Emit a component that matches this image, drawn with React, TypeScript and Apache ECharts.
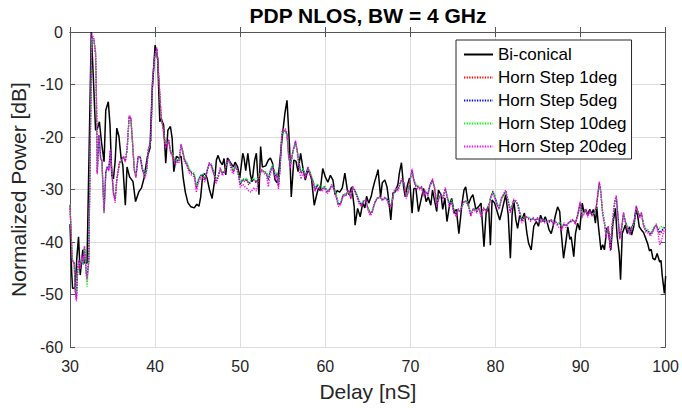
import React, { useEffect, useRef } from "react";
import * as echarts from "echarts";

const FONT = '"Liberation Sans", Arial, Helvetica, sans-serif';

const xTicks = [30, 40, 50, 60, 70, 80, 90, 100];
const yTicks = [-60, -50, -40, -30, -20, -10, 0];

const seriesNames = ["Bi-conical", "Horn Step 1deg", "Horn Step 5deg", "Horn Step 10deg", "Horn Step 20deg"];

// Bi-conical: [delay (nS), normalized power (dB)]
const biconical: number[][] = [
  [30.0, -36.6], [30.2, -46.0], [30.3, -48.8], [30.6, -48.8], [30.8, -43.0], [31.0, -39.0], [31.2, -46.3], [31.5, -41.5], [31.7, -44.0], [32.0, -44.0],
  [32.5, 0.0], [32.75, -9.1], [33.0, -18.7], [33.2, -18.5], [33.45, -17.1], [33.7, -21.0], [34.0, -24.7], [34.2, -14.9], [34.5, -13.3], [34.7, -17.7],
  [34.9, -27.2], [35.1, -28.0], [35.3, -24.7], [35.5, -18.3], [35.75, -19.9], [36.0, -24.0], [36.2, -25.3], [36.5, -33.0], [36.7, -25.7], [37.0, -27.6],
  [37.4, -28.5], [37.7, -32.3], [38.1, -30.4], [38.4, -29.7], [38.7, -27.8], [39.1, -23.7], [39.4, -22.1], [39.65, -11.4], [40.0, -2.5], [40.3, -5.0],
  [40.55, -17.1], [40.7, -16.5], [41.0, -17.7], [41.25, -25.0], [41.5, -18.7], [41.8, -18.0], [42.0, -20.2], [42.2, -26.6], [42.5, -23.7], [42.8, -24.0],
  [43.05, -23.7], [43.3, -27.8], [43.55, -30.5], [43.85, -32.5], [44.2, -33.3], [44.6, -33.5], [44.9, -32.8], [45.15, -33.2], [45.35, -31.5], [45.6, -27.2],
  [45.85, -27.0], [46.1, -27.8], [46.4, -30.1], [46.7, -31.7], [47.0, -28.2], [47.2, -24.4], [47.4, -23.5], [47.65, -24.7], [47.9, -25.3], [48.1, -24.1],
  [48.3, -27.2], [48.5, -24.0], [48.9, -25.0], [49.2, -25.7], [49.4, -24.8], [49.7, -25.7], [49.95, -27.8], [50.3, -23.1], [50.45, -24.0], [50.65, -26.4],
  [50.9, -23.1], [51.2, -27.2], [51.4, -28.5], [51.7, -24.4], [51.9, -23.1], [52.2, -31.0], [52.4, -21.8], [52.6, -25.7], [53.0, -25.5], [53.3, -24.4],
  [53.55, -24.0], [53.8, -25.0], [54.1, -28.2], [54.35, -28.7], [54.6, -25.7], [54.9, -20.6], [55.25, -15.5], [55.5, -13.0], [55.8, -21.8], [56.0, -31.4],
  [56.3, -24.4], [56.55, -24.6], [56.8, -26.6], [57.1, -23.1], [57.4, -26.2], [57.65, -28.2], [57.9, -26.6], [58.15, -26.6], [58.4, -28.2], [58.7, -33.0],
  [59.0, -30.9], [59.2, -29.7], [59.4, -30.2], [59.7, -26.0], [60.0, -27.6], [60.3, -28.6], [60.6, -27.3], [60.9, -28.2], [61.15, -31.0], [61.4, -30.2],
  [61.7, -30.5], [62.0, -29.7], [62.3, -26.9], [62.6, -30.2], [62.8, -31.0], [63.1, -29.5], [63.4, -33.3], [63.5, -36.8], [63.8, -33.6], [64.1, -35.2],
  [64.4, -32.6], [64.65, -33.5], [64.85, -31.3], [65.1, -32.6], [65.4, -31.3], [65.55, -30.1], [65.8, -28.5], [66.1, -26.9], [66.2, -26.2], [66.5, -31.4],
  [66.7, -28.7], [67.0, -28.2], [67.25, -29.5], [67.5, -32.6], [67.7, -35.8], [67.95, -30.7], [68.25, -30.4], [68.55, -28.9], [68.7, -26.9], [68.95, -24.9],
  [69.2, -29.5], [69.4, -31.4], [69.65, -29.2], [69.9, -27.8], [70.2, -34.5], [70.4, -29.8], [70.65, -29.8], [70.95, -34.2], [71.3, -31.6], [71.55, -29.8],
  [71.85, -32.3], [72.1, -31.4], [72.4, -33.0], [72.6, -30.1], [72.9, -32.6], [73.1, -34.2], [73.3, -30.1], [73.6, -31.0], [73.8, -33.8], [74.05, -31.6],
  [74.3, -36.1], [74.6, -33.0], [74.85, -31.7], [75.15, -34.5], [75.4, -33.8], [75.7, -38.4], [76.05, -32.9], [76.3, -30.1], [76.5, -29.5], [76.8, -32.9],
  [77.1, -31.6], [77.35, -31.0], [77.7, -33.8], [78.0, -33.3], [78.3, -32.6], [78.65, -40.9], [78.9, -34.5], [79.2, -33.2], [79.4, -40.6], [79.6, -32.0],
  [79.9, -32.6], [80.2, -34.2], [80.5, -35.8], [80.8, -33.8], [81.2, -31.0], [81.5, -34.9], [81.75, -43.1], [81.95, -34.9], [82.15, -32.0], [82.4, -35.8],
  [82.6, -37.4], [82.85, -34.9], [83.1, -35.8], [83.4, -34.5], [83.7, -38.4], [83.9, -40.3], [84.2, -41.5], [84.5, -37.0], [84.8, -36.1], [85.05, -37.0],
  [85.3, -34.9], [85.6, -36.1], [85.85, -35.2], [86.05, -36.1], [86.3, -37.7], [86.55, -38.4], [86.8, -36.8], [87.05, -34.9], [87.3, -33.3], [87.55, -34.2],
  [87.7, -37.7], [88.0, -43.1], [88.3, -39.7], [88.5, -37.1], [88.75, -39.5], [88.9, -39.0], [89.2, -42.8], [89.4, -38.4], [89.65, -36.4], [89.9, -37.7],
  [90.2, -32.6], [90.4, -34.4], [90.6, -33.8], [90.8, -34.7], [91.1, -33.8], [91.3, -34.7], [91.5, -33.8], [91.75, -36.4], [91.9, -33.3], [92.1, -37.0],
  [92.4, -41.5], [92.6, -40.5], [92.8, -41.5], [93.1, -37.3], [93.3, -38.2], [93.55, -41.5], [93.8, -36.4], [94.1, -33.6], [94.3, -39.0], [94.55, -42.2],
  [94.7, -47.2], [94.9, -38.4], [95.25, -36.8], [95.5, -38.4], [95.75, -37.1], [96.0, -38.7], [96.25, -37.1], [96.5, -33.9], [96.7, -34.9], [96.9, -37.1],
  [97.15, -37.7], [97.4, -38.2], [97.7, -39.5], [97.9, -40.4], [98.1, -41.7], [98.3, -41.4], [98.5, -43.1], [98.75, -43.4], [99.0, -42.2], [99.3, -43.8],
  [99.45, -43.5], [99.6, -46.4], [99.85, -49.8], [100.0, -46.5],
];

// Horn measurements share one delay grid (nS)
const hornDelay = [
  30.0, 30.25, 30.5, 30.6, 30.75, 30.9, 31.05, 31.2, 31.4, 31.55,
  31.7, 31.9, 32.0, 32.2, 32.4, 32.55, 32.8, 33.0, 33.1, 33.2,
  33.4, 33.6, 33.75, 33.9, 34.0, 34.2, 34.35, 34.55, 34.75, 34.9,
  35.1, 35.3, 35.5, 35.8, 36.05, 36.3, 36.5, 36.7, 36.95, 37.15,
  37.35, 37.55, 37.75, 38.0, 38.25, 38.5, 38.8, 39.0, 39.2, 39.5,
  39.7, 39.95, 40.2, 40.45, 40.7, 41.05, 41.2, 41.4, 41.6, 41.8,
  42.05, 42.35, 42.6, 42.8, 43.05, 43.25, 43.45, 43.7, 44.0, 44.3,
  44.6, 44.85, 45.1, 45.35, 45.6, 45.85, 46.1, 46.35, 46.6, 46.9,
  47.15, 47.4, 47.65, 47.9, 48.15, 48.4, 48.7, 48.95, 49.2, 49.5,
  49.8, 50.0, 50.3, 50.55, 50.8, 51.0, 51.3, 51.6, 51.9, 52.2,
  52.5, 52.8, 53.1, 53.3, 53.55, 53.8, 54.0, 54.15, 54.3, 54.5,
  54.7, 54.9, 55.1, 55.3, 55.5, 55.7, 55.9, 56.15, 56.5, 56.7,
  56.9, 57.15, 57.4, 57.65, 57.95, 58.2, 58.5, 58.8, 59.05, 59.3,
  59.6, 59.9, 60.2, 60.45, 60.75, 61.0, 61.3, 61.55, 61.8, 62.1,
  62.4, 62.7, 63.0, 63.2, 63.45, 63.7, 64.0, 64.25, 64.5, 64.75,
  65.0, 65.3, 65.5, 65.8, 66.1, 66.4, 66.7, 67.0, 67.25, 67.6,
  67.8, 68.0, 68.3, 68.55, 68.8, 69.0, 69.25, 69.5, 69.7, 69.9,
  70.2, 70.4, 70.6, 70.85, 71.1, 71.3, 71.55, 71.8, 72.05, 72.3,
  72.6, 72.85, 73.1, 73.35, 73.6, 73.85, 74.1, 74.35, 74.6, 74.85,
  75.1, 75.4, 75.6, 75.85, 76.05, 76.35, 76.6, 76.85, 77.1, 77.35,
  77.55, 77.8, 78.05, 78.3, 78.6, 78.9, 79.2, 79.5, 79.7, 79.95,
  80.2, 80.45, 80.7, 80.95, 81.2, 81.5, 81.75, 81.95, 82.15, 82.4,
  82.65, 82.9, 83.1, 83.35, 83.6, 83.9, 84.15, 84.45, 84.7, 84.95,
  85.3, 85.55, 85.8, 86.05, 86.3, 86.55, 86.8, 87.05, 87.3, 87.55,
  87.8, 88.05, 88.3, 88.6, 88.85, 89.1, 89.4, 89.65, 89.95, 90.2,
  90.4, 90.6, 90.85, 91.1, 91.35, 91.6, 91.85, 92.2, 92.35, 92.6,
  92.85, 93.0, 93.25, 93.5, 93.7, 94.0, 94.2, 94.4, 94.6, 94.85,
  95.05, 95.3, 95.55, 95.8, 96.05, 96.3, 96.55, 96.75, 96.95, 97.15,
  97.4, 97.7, 97.95, 98.2, 98.45, 98.65, 98.9, 99.1, 99.3, 99.55,
  99.8, 100.0,
];

const hornStep1 = [
  -33.0, -43.4, -44.0, -49.0, -51.0, -45.3, -43.5, -45.0, -42.8, -44.0,
  -40.9, -45.8, -47.0, -43.7, -18.7, -0.9, -1.5, -4.0, -12.0, -26.9,
  -19.7, -24.1, -24.5, -30.7, -34.2, -26.9, -25.7, -26.3, -22.5, -26.3,
  -30.7, -31.9, -28.1, -25.0, -24.4, -23.8, -24.6, -22.5, -16.1, -16.4,
  -21.2, -26.3, -27.6, -23.8, -23.8, -26.2, -27.6, -26.3, -22.5, -20.6,
  -9.1, -4.7, -3.1, -9.1, -16.0, -19.5, -21.8, -21.5, -20.6, -22.8,
  -23.5, -25.0, -24.5, -24.7, -21.5, -22.8, -24.4, -25.0, -26.3, -26.9,
  -27.2, -29.8, -28.2, -27.5, -27.3, -28.2, -26.6, -25.0, -25.4, -26.9,
  -28.5, -27.6, -26.0, -27.0, -26.6, -25.0, -24.4, -25.7, -26.6, -25.4,
  -27.2, -29.1, -28.2, -28.5, -28.2, -29.1, -28.5, -28.2, -28.8, -27.5,
  -26.3, -26.6, -27.0, -28.2, -26.5, -25.6, -26.6, -27.6, -27.0, -29.5,
  -25.5, -19.3, -18.7, -18.7, -19.5, -23.7, -25.6, -23.1, -20.9, -22.5,
  -25.0, -26.9, -26.3, -27.6, -25.8, -26.9, -28.2, -30.1, -29.2, -29.5,
  -30.1, -29.5, -30.5, -30.2, -29.2, -29.8, -31.4, -33.0, -32.7, -31.1,
  -31.1, -30.2, -31.7, -29.5, -30.2, -31.1, -32.6, -33.0, -32.3, -32.0,
  -33.6, -34.7, -34.3, -32.6, -31.7, -31.4, -32.0, -31.6, -31.9, -33.2,
  -33.0, -30.8, -29.8, -30.1, -28.8, -28.2, -28.8, -31.4, -30.7, -28.8,
  -26.3, -28.2, -29.2, -29.5, -29.8, -29.5, -31.0, -30.4, -31.0, -29.2,
  -28.2, -29.8, -32.9, -31.6, -31.0, -31.6, -29.8, -31.6, -33.0, -32.3,
  -34.2, -34.9, -33.8, -34.2, -33.0, -32.3, -32.3, -33.2, -34.9, -33.8,
  -33.8, -34.2, -33.6, -34.9, -33.6, -34.0, -33.2, -31.0, -30.3, -31.5,
  -33.0, -33.6, -31.7, -31.0, -30.3, -32.3, -34.2, -33.2, -32.0, -32.3,
  -33.0, -34.9, -36.1, -35.5, -35.2, -35.5, -35.8, -35.5, -35.9, -35.5,
  -36.1, -35.8, -36.1, -36.1, -36.1, -35.8, -36.5, -36.1, -36.7, -36.5,
  -37.5, -36.5, -37.0, -36.3, -36.1, -35.8, -36.4, -34.9, -32.6, -35.0,
  -34.5, -33.8, -35.0, -34.2, -34.9, -34.5, -33.3, -28.7, -30.1, -34.5,
  -36.7, -39.0, -37.1, -41.2, -37.1, -32.6, -31.4, -35.2, -39.3, -37.1,
  -34.5, -36.4, -37.5, -38.4, -37.1, -36.1, -33.3, -34.2, -35.2, -34.5,
  -36.7, -37.9, -38.0, -38.6, -38.0, -37.3, -36.7, -37.7, -38.6, -38.0,
  -37.1, -37.5,
];

const hornStep5 = [
  -33.2, -43.2, -44.2, -48.8, -50.6, -45.0, -43.6, -44.8, -42.9, -44.2,
  -41.0, -45.6, -46.6, -43.5, -18.9, -1.0, -1.4, -4.2, -12.2, -26.7,
  -19.8, -24.0, -24.6, -30.4, -34.0, -26.8, -25.8, -26.2, -22.6, -26.4,
  -30.5, -31.7, -28.0, -25.1, -24.5, -23.9, -24.5, -22.6, -16.2, -16.5,
  -21.0, -26.1, -27.4, -23.9, -23.7, -26.0, -27.4, -26.2, -22.6, -20.7,
  -9.3, -4.8, -3.2, -9.2, -16.1, -19.4, -21.6, -21.4, -20.7, -22.6,
  -23.4, -24.8, -24.4, -24.6, -21.6, -22.7, -24.3, -24.9, -26.2, -26.8,
  -27.1, -29.5, -28.1, -27.4, -27.2, -28.0, -26.5, -25.1, -25.3, -26.8,
  -28.3, -27.5, -26.1, -26.9, -26.5, -25.1, -24.5, -25.6, -26.5, -25.5,
  -27.1, -28.9, -28.1, -28.3, -28.0, -28.9, -28.4, -28.1, -28.6, -27.4,
  -26.4, -26.5, -26.9, -28.0, -26.4, -25.5, -26.5, -27.5, -26.9, -29.2,
  -25.6, -19.4, -18.8, -18.9, -19.6, -23.6, -25.5, -23.2, -21.0, -22.6,
  -24.9, -26.7, -26.2, -27.5, -25.9, -26.8, -28.1, -29.9, -29.1, -29.4,
  -30.0, -29.4, -30.3, -30.1, -29.3, -29.7, -31.2, -32.8, -32.6, -31.0,
  -31.0, -30.3, -31.5, -29.6, -30.1, -31.0, -32.4, -32.9, -32.2, -32.1,
  -33.4, -34.5, -34.2, -32.7, -31.6, -31.5, -31.9, -31.7, -31.8, -33.0,
  -32.9, -30.9, -29.9, -30.0, -28.9, -28.3, -28.9, -31.2, -30.6, -28.9,
  -26.4, -28.1, -29.1, -29.4, -29.7, -29.6, -30.9, -30.5, -30.9, -29.3,
  -28.3, -29.7, -32.7, -31.5, -31.1, -31.5, -29.9, -31.5, -32.8, -32.2,
  -34.0, -34.7, -33.9, -34.1, -33.1, -32.4, -32.2, -33.1, -34.7, -33.9,
  -33.7, -34.1, -33.7, -34.7, -33.7, -33.9, -33.1, -31.1, -30.4, -31.4,
  -32.9, -33.5, -31.8, -31.1, -30.4, -32.2, -34.0, -33.1, -32.1, -32.4,
  -32.9, -34.7, -35.9, -35.4, -35.3, -35.4, -35.7, -35.6, -35.8, -35.6,
  -36.0, -35.9, -36.0, -36.2, -36.0, -35.9, -36.4, -36.2, -36.6, -36.4,
  -37.3, -36.6, -36.9, -36.4, -36.0, -35.9, -36.3, -35.0, -32.8, -34.9,
  -34.4, -33.9, -34.9, -34.3, -34.8, -34.6, -33.4, -28.9, -30.2, -34.4,
  -36.6, -38.8, -37.2, -41.0, -37.2, -32.7, -31.5, -35.1, -39.1, -37.2,
  -34.6, -36.3, -37.4, -38.3, -37.2, -36.2, -33.4, -34.1, -35.1, -34.6,
  -36.6, -37.8, -37.9, -38.5, -37.9, -37.2, -36.8, -37.5, -38.2, -37.8,
  -37.2, -37.6,
];

const hornStep10 = [
  -32.8, -43.0, -44.3, -48.5, -49.8, -45.5, -43.8, -44.6, -43.0, -44.5,
  -41.2, -46.5, -48.5, -44.0, -19.2, -1.2, -1.3, -4.4, -12.4, -26.5,
  -20.0, -23.8, -24.8, -31.2, -34.5, -26.6, -25.9, -26.0, -22.8, -26.6,
  -30.3, -31.5, -27.8, -25.3, -24.6, -24.0, -24.0, -22.8, -16.4, -16.7,
  -20.8, -25.8, -27.2, -24.0, -23.6, -25.8, -27.2, -26.0, -22.8, -20.9,
  -9.5, -5.0, -3.4, -9.4, -16.3, -19.3, -21.4, -21.2, -20.8, -22.4,
  -23.2, -24.6, -24.2, -24.4, -21.8, -22.6, -24.1, -24.7, -26.0, -26.6,
  -26.9, -29.3, -27.9, -27.2, -27.0, -27.8, -26.3, -25.2, -25.1, -26.6,
  -28.1, -27.3, -26.2, -26.7, -26.3, -25.2, -24.6, -25.4, -26.3, -25.6,
  -26.9, -28.7, -27.9, -28.0, -27.8, -28.6, -28.2, -27.9, -28.4, -27.2,
  -26.5, -26.4, -26.7, -27.8, -26.2, -25.3, -26.3, -27.3, -26.7, -29.0,
  -25.8, -19.6, -18.9, -19.0, -19.8, -23.4, -25.3, -23.3, -21.2, -22.8,
  -24.7, -26.5, -26.0, -27.3, -26.0, -26.6, -27.9, -29.7, -28.9, -29.2,
  -29.8, -29.3, -30.1, -29.9, -29.4, -29.5, -31.0, -32.6, -32.4, -30.9,
  -30.8, -30.4, -31.3, -29.8, -30.0, -30.8, -32.2, -32.7, -32.0, -32.2,
  -33.2, -34.3, -34.0, -32.8, -31.5, -31.6, -31.8, -31.8, -31.7, -32.8,
  -32.7, -31.0, -30.0, -29.9, -29.0, -28.4, -29.0, -31.0, -30.4, -29.0,
  -26.6, -28.0, -28.9, -29.2, -29.5, -29.7, -30.7, -30.6, -30.7, -29.4,
  -28.4, -29.5, -32.5, -31.4, -31.2, -31.4, -30.0, -31.3, -32.6, -32.0,
  -33.8, -34.5, -34.0, -34.0, -33.2, -32.5, -32.0, -33.0, -34.5, -34.0,
  -33.5, -34.0, -33.8, -34.5, -33.8, -33.7, -33.0, -31.2, -30.5, -31.2,
  -32.7, -33.3, -31.9, -31.2, -30.5, -32.0, -33.8, -33.0, -32.2, -32.5,
  -32.7, -34.5, -35.7, -35.2, -35.4, -35.3, -35.5, -35.7, -35.6, -35.7,
  -35.8, -36.0, -35.8, -36.3, -35.8, -36.0, -36.2, -36.3, -36.4, -36.2,
  -37.0, -36.7, -36.7, -36.5, -35.8, -36.0, -36.1, -35.1, -33.0, -34.8,
  -34.2, -34.0, -34.7, -34.4, -34.6, -34.7, -33.5, -29.1, -30.3, -34.2,
  -36.4, -38.6, -37.3, -40.8, -37.3, -32.8, -31.6, -35.0, -38.9, -37.3,
  -34.7, -36.1, -37.2, -38.1, -37.3, -36.3, -33.6, -34.0, -34.9, -34.7,
  -36.4, -37.6, -37.7, -38.3, -37.7, -37.0, -36.9, -37.2, -37.4, -37.0,
  -37.3, -37.4,
];

const hornStep20 = [
  -33.1, -43.6, -44.1, -49.5, -51.3, -45.6, -43.4, -45.2, -42.6, -43.8,
  -40.7, -46.0, -47.3, -43.8, -18.5, -0.3, -1.2, -3.8, -11.8, -27.1,
  -19.5, -24.3, -24.3, -30.9, -34.4, -27.1, -25.6, -26.5, -22.3, -26.1,
  -30.9, -32.5, -28.3, -24.8, -24.3, -23.6, -24.8, -22.3, -15.8, -16.2,
  -21.4, -26.5, -27.8, -23.6, -24.0, -26.4, -27.9, -26.5, -22.3, -20.4,
  -8.8, -4.5, -2.9, -8.9, -15.8, -19.8, -22.1, -21.7, -20.4, -23.0,
  -23.8, -25.3, -24.8, -25.0, -21.3, -23.0, -24.7, -25.4, -26.8, -27.3,
  -27.6, -30.6, -28.6, -27.9, -27.7, -28.6, -26.8, -24.8, -25.6, -27.2,
  -28.9, -27.9, -25.8, -27.4, -26.9, -24.8, -24.2, -26.5, -27.0, -25.3,
  -27.5, -29.6, -29.0, -29.5, -29.8, -30.3, -30.5, -29.6, -30.3, -28.0,
  -26.1, -26.9, -27.4, -29.5, -27.0, -25.8, -26.9, -28.0, -27.3, -30.0,
  -25.3, -19.0, -18.5, -18.4, -19.2, -24.0, -26.0, -22.9, -20.6, -22.8,
  -26.0, -28.0, -26.7, -27.9, -25.6, -27.2, -28.5, -30.4, -29.4, -29.8,
  -30.4, -29.7, -30.8, -30.4, -29.0, -30.0, -31.7, -33.3, -32.9, -31.2,
  -31.3, -30.0, -31.9, -29.3, -30.4, -31.3, -32.9, -33.2, -32.5, -31.8,
  -33.9, -35.0, -34.5, -32.4, -31.8, -31.2, -32.2, -31.4, -32.1, -33.5,
  -33.2, -30.6, -29.6, -30.3, -28.6, -27.9, -28.6, -31.7, -30.9, -28.6,
  -26.0, -28.4, -29.4, -29.8, -30.1, -29.3, -31.3, -30.2, -31.3, -29.0,
  -27.9, -30.0, -33.3, -31.8, -30.8, -31.9, -29.6, -31.9, -33.3, -32.5,
  -34.5, -35.2, -33.6, -34.4, -32.8, -32.1, -32.5, -33.4, -35.2, -33.6,
  -34.0, -34.5, -33.4, -35.2, -33.4, -34.3, -33.5, -31.3, -30.8, -31.8,
  -33.3, -33.8, -31.5, -30.8, -30.1, -32.6, -34.5, -33.4, -31.8, -32.1,
  -33.3, -35.2, -36.4, -35.7, -35.0, -35.7, -36.1, -35.3, -36.2, -35.3,
  -36.4, -35.6, -36.4, -35.9, -36.4, -35.6, -36.8, -35.9, -37.0, -37.3,
  -37.8, -36.3, -37.3, -36.1, -36.3, -35.6, -36.7, -34.7, -32.3, -35.3,
  -34.8, -33.6, -35.3, -34.0, -35.2, -34.3, -33.1, -28.4, -29.8, -34.8,
  -37.0, -39.3, -36.9, -41.8, -36.9, -32.3, -31.1, -35.5, -39.6, -36.9,
  -34.3, -36.7, -37.8, -38.7, -36.9, -35.9, -33.0, -34.4, -35.5, -34.3,
  -37.0, -38.2, -38.3, -38.9, -38.3, -37.6, -36.5, -38.2, -40.6, -39.5,
  -37.8, -38.2,
];

const hornColors = ["#ff0000", "#0000ff", "#00ff00", "#ff00ff"];

function toPairs(values: number[]) {
  const n = Math.min(hornDelay.length, values.length);
  const out: number[][] = [];
  for (let i = 0; i < n; i++) out.push([hornDelay[i], values[i]]);
  return out;
}

export default function App() {
  const ref = useRef<HTMLDivElement>(null);

  useEffect(() => {
    if (!ref.current) return;
    const chart = echarts.init(ref.current, undefined, { renderer: "svg" });
    const axisColor = "#262626";
    const boxLine = { show: true, lineStyle: { color: "#555555", width: 1 } };
    const innerTick = { show: true, inside: true, length: 5, lineStyle: { color: "#555555", width: 1 } };
    const labelStyle = { color: axisColor, fontSize: 16, fontFamily: FONT };
    const gridLine = { show: true, lineStyle: { color: "#dedede", width: 1 } };

    const hornSeries = [hornStep1, hornStep5, hornStep10, hornStep20].map((vals, i) => ({
      name: seriesNames[i + 1],
      type: "line",
      data: toPairs(vals),
      showSymbol: false,
      symbol: "none",
      lineStyle: { color: hornColors[i], width: 1.3, type: [1.3, 1.3] },
      itemStyle: { color: hornColors[i] },
      z: 3 + i,
    }));

    chart.setOption({
      animation: false,
      backgroundColor: "#ffffff",
      textStyle: { fontFamily: FONT },
      grid: { left: 68, right: 14, top: 32, bottom: 61, containLabel: false },
      graphic: [
        {
          type: "text",
          x: 368,
          y: 15,
          style: {
            text: "PDP NLOS, BW = 4 GHz",
            fontFamily: FONT,
            fontSize: 21,
            fontWeight: "bold",
            fill: "#000000",
            textAlign: "center",
            textVerticalAlign: "middle",
          },
        },
      ],
      legend: {
        orient: "vertical",
        left: 456,
        top: 40,
        itemWidth: 29,
        itemHeight: 14,
        itemGap: 6,
        padding: [6, 5, 4, 7],
        backgroundColor: "#ffffff",
        borderColor: "#262626",
        borderWidth: 1,
        borderRadius: 0,
        itemStyle: { opacity: 0 },
        textStyle: { fontSize: 17, color: "#000000", fontFamily: FONT },
        data: seriesNames,
      },
      xAxis: [
        {
          type: "value",
          min: xTicks[0],
          max: xTicks[xTicks.length - 1],
          interval: 10,
          position: "bottom",
          axisLine: boxLine,
          axisTick: innerTick,
          axisLabel: { ...labelStyle, margin: 11 },
          splitLine: gridLine,
          name: "Delay [nS]",
          nameLocation: "middle",
          nameGap: 34,
          nameTextStyle: { fontSize: 21, color: axisColor, fontFamily: FONT },
        },
        {
          type: "value",
          min: xTicks[0],
          max: xTicks[xTicks.length - 1],
          interval: 10,
          position: "top",
          axisLine: boxLine,
          axisTick: innerTick,
          axisLabel: { show: false },
          splitLine: { show: false },
        },
      ],
      yAxis: [
        {
          type: "value",
          min: yTicks[0],
          max: yTicks[yTicks.length - 1],
          interval: 10,
          position: "left",
          axisLine: boxLine,
          axisTick: innerTick,
          axisLabel: { ...labelStyle, margin: 7 },
          splitLine: gridLine,
          name: "Normalized Power [dB]",
          nameLocation: "middle",
          nameGap: 37,
          nameTextStyle: { fontSize: 21, color: axisColor, fontFamily: FONT },
        },
        {
          type: "value",
          min: yTicks[0],
          max: yTicks[yTicks.length - 1],
          interval: 10,
          position: "right",
          axisLine: boxLine,
          axisTick: innerTick,
          axisLabel: { show: false },
          splitLine: { show: false },
        },
      ],
      series: [
        {
          name: seriesNames[0],
          type: "line",
          data: biconical,
          showSymbol: false,
          symbol: "none",
          lineStyle: { color: "#000000", width: 1.5 },
          itemStyle: { color: "#000000" },
          z: 2,
        },
        ...hornSeries,
      ],
    });
    return () => chart.dispose();
  }, []);

  return (
    <div
      ref={ref}
      style={{ position: "fixed", left: 0, top: 0, width: 682, height: 408, background: "#ffffff" }}
    />
  );
}
